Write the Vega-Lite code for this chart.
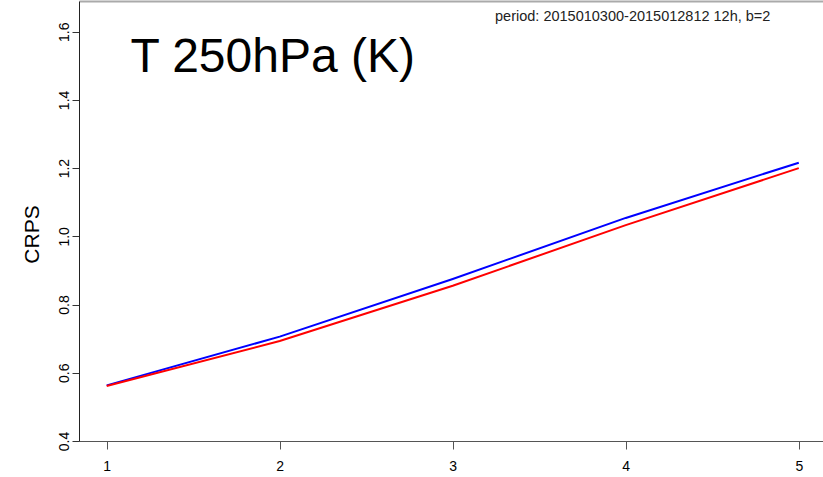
{
  "$schema": "https://vega.github.io/schema/vega-lite/v6.json",
  "width": 744,
  "height": 440,
  "autosize": {"type": "none"},
  "padding": {"left": 79, "top": 1, "right": 0, "bottom": 36},
  "background": "white",
  "config": {"view": {"stroke": null}, "font": "Liberation Sans"},
  "resolve": {"axis": {"x": "independent"}},
  "layer": [
    {
      "data": {
        "values": [
          {"step": 1, "run": "A", "crps": 0.563},
          {"step": 2, "run": "A", "crps": 0.706},
          {"step": 3, "run": "A", "crps": 0.875},
          {"step": 4, "run": "A", "crps": 1.054},
          {"step": 5, "run": "A", "crps": 1.216},
          {"step": 1, "run": "B", "crps": 0.561},
          {"step": 2, "run": "B", "crps": 0.693},
          {"step": 3, "run": "B", "crps": 0.855},
          {"step": 4, "run": "B", "crps": 1.033},
          {"step": 5, "run": "B", "crps": 1.200}
        ]
      },
      "mark": {"type": "line", "strokeWidth": 2},
      "encoding": {
        "x": {
          "field": "step", "type": "quantitative",
          "scale": {"domain": [0.84, 5.14], "nice": false, "zero": false},
          "axis": {
            "orient": "bottom", "values": [1, 2, 3, 4, 5], "format": "d", "title": null, "grid": false,
            "labelFontSize": 14, "labelColor": "#000", "tickSize": 8, "labelPadding": 10,
            "domainColor": "#555", "tickColor": "#555", "labelFlush": false
          }
        },
        "y": {
          "field": "crps", "type": "quantitative",
          "scale": {"domain": [0.4, 1.69], "nice": false, "zero": false},
          "axis": {
            "values": [0.4, 0.6, 0.8, 1.0, 1.2, 1.4, 1.6], "format": ".1f", "grid": false,
            "labelAngle": 270, "labelAlign": "center", "labelBaseline": "alphabetic", "labelPadding": 4,
            "labelFontSize": 14, "labelColor": "#000", "labelFlush": false, "labelOverlap": false,
            "tickSize": 7, "tickColor": "#333", "domainColor": "#222",
            "title": "CRPS", "titleFontSize": 21, "titleFontWeight": "normal", "titleColor": "#000",
            "titleAngle": 270, "titleBaseline": "bottom", "titleAlign": "center", "titleX": -37, "titleY": 233
          }
        },
        "color": {
          "field": "run", "type": "nominal",
          "scale": {"domain": ["A", "B"], "range": ["#0000ff", "#ff0000"]},
          "legend": null
        }
      }
    },
    {
      "data": {"values": [{"label": "T 250hPa (K)"}]},
      "mark": {"type": "text", "fontSize": 48, "align": "left", "baseline": "alphabetic", "color": "#000"},
      "encoding": {
        "text": {"field": "label", "type": "nominal"},
        "x": {"datum": 1.137, "type": "quantitative",
          "axis": {"orient": "top", "labels": false, "ticks": false, "grid": false, "title": null, "domainColor": "#aaa", "domainWidth": 2}},
        "y": {"datum": 1.482, "type": "quantitative"}
      }
    },
    {
      "data": {"values": [{"label": "period: 2015010300-2015012812 12h, b=2"}]},
      "mark": {"type": "text", "fontSize": 14.5, "align": "right", "baseline": "alphabetic", "color": "#222"},
      "encoding": {
        "text": {"field": "label", "type": "nominal"},
        "x": {"datum": 4.836, "type": "quantitative", "axis": null},
        "y": {"datum": 1.632, "type": "quantitative"}
      }
    }
  ]
}
